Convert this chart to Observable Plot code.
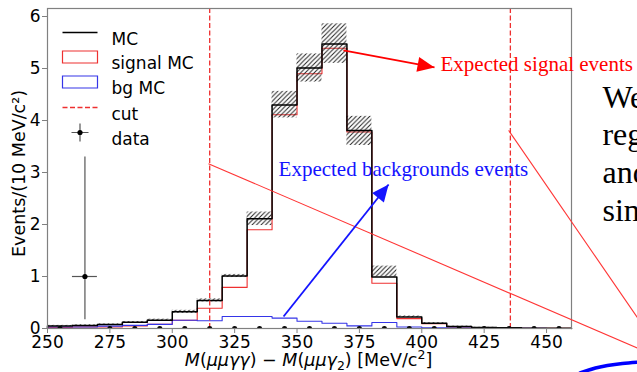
<!DOCTYPE html>
<html><head><meta charset="utf-8">
<script src="https://cdn.jsdelivr.net/npm/d3@7"></script>
<script src="https://cdn.jsdelivr.net/npm/@observablehq/plot@0.6"></script>
<style>body{margin:0;background:#fff}#chart{width:637px;height:372px;overflow:hidden}</style>
</head><body><div id="chart"></div>
<script>
// ---------- data ----------
const binStart = [250,260,270,280,290,300,310,320,330,340,350,360,370,380,390,400,410,420,430,440,450];
const binWidth = 10;
const mcValues     = [0.05,0.06,0.075,0.12,0.16,0.32,0.54,1.01,2.11,4.30,5.01,5.47,3.81,0.99,0.22,0.10,0.04,0.02,0.013,0.007,0.004];
const signalValues = [0.02,0.03,0.03,0.05,0.08,0.16,0.39,0.79,1.90,4.11,4.90,5.39,3.78,0.87,0.19,0.09,0.03,0.015,0.01,0.005,0.003];
const bgValues     = [0.03,0.03,0.045,0.06,0.08,0.16,0.15,0.23,0.23,0.20,0.14,0.10,0.05,0.115,0.03,0.012,0.01,0.005,0.003,0.002,0.001];
const mcErrUp      = [0.01,0.01,0.012,0.015,0.02,0.03,0.03,0.03,0.13,0.26,0.27,0.39,0.27,0.21,0.02,0.012,0.006,0.004,0,0,0];
const mcErrDown    = [0.01,0.01,0.012,0.015,0.02,0.03,0.03,0.03,0.13,0.25,0.27,0.37,0.29,0.0,0.01,0.01,0.006,0.004,0,0,0];
const dataCenters  = [255,265,275,285,295,305,315,325,335,345,355,365,375,385,395,405,415,425,435,445,455];
const dataCounts   = [0,1,0,0,0,0,0,0,0,0,0,0,0,0,0,0,0,0,0,0,0];
const dataErrLow   = [0,0.83,0,0,0,0,0,0,0,0,0,0,0,0,0,0,0,0,0,0,0];
const dataErrHigh  = [0,2.30,0,0,0,0,0,0,0,0,0,0,0,0,0,0,0,0,0,0,0];
const cutValues = [315, 435.5];
const xTicks = [250,275,300,325,350,375,400,425,450];
const yTicks = [0,1,2,3,4,5,6];
const xDomain = [250, 460];
const yDomain = [0, 6.154];
const legendLabels = ["MC","signal MC","bg MC","cut","data"];
const yLabel = "Events/(10 MeV/c²)";
const xLabelParts = [["M","i"],["(",""],["μμγγ","i"],[")",""],[" − ",""],["M","i"],["(",""],["μμγ","i"],["2","sub"],[")",""],[" [MeV/c",""],["2","sup"],["]",""]];
// slide annotations (data coordinates)
const annoTexts = [
  {text:"Expected signal events", x:407.5, y:4.96, color:"#ff0000"},
  {text:"Expected backgrounds events", x:342.6, y:2.94, color:"#1414ff"}
];
const slideWords = [
  {text:"We", x:472.4, y:4.25},{text:"reg", x:472.4, y:3.52},
  {text:"and", x:472.4, y:2.79},{text:"sin", x:472.4, y:2.06}
];
const arrows = [
  {x1:368.6, y1:5.35, x2:405.1, y2:5.02, color:"#ff0000"},
  {x1:344.6, y1:0.23, x2:386.7, y2:2.77, color:"#1414ff"}
];
const pointerLines = [
  {x1:314.5, y1:3.17, x2:490, y2:-0.45},
  {x1:434.8, y1:3.81, x2:488, y2:0.10}
];
const ellipseArc = [
  {x:462.8,y:-0.875},{x:464.0,y:-0.846},{x:469.6,y:-0.76},{x:474.4,y:-0.71},{x:480.4,y:-0.673},{x:487.6,y:-0.644}
];

// ---------- derived tables ----------
function stepPoints(vals){
  const pts=[{x:binStart[0],y:0}];
  vals.forEach((v,i)=>{pts.push({x:binStart[i],y:v});pts.push({x:binStart[i]+binWidth,y:v});});
  pts.push({x:binStart[vals.length-1]+binWidth,y:0});
  return pts;
}
const bands = binStart.map((b,i)=>({x1:b,x2:b+binWidth,y1:mcValues[i]-mcErrDown[i],y2:mcValues[i]+mcErrUp[i]})).filter(d=>d.y2>d.y1);
const dataTable = dataCenters.map((c,i)=>({x:c,y:dataCounts[i],lo:dataCounts[i]-dataErrLow[i],hi:dataCounts[i]+dataErrHigh[i]}));
const dataNonzero = dataTable.filter(d=>d.y>0);

const W=637,H=372,mL=47,mR=66,mT=8,mB=44;
const xs = Plot.scale({x:{domain:xDomain,range:[mL,W-mR]}});
const ys = Plot.scale({y:{domain:yDomain,range:[H-mB,mT]}});
const angle = d => Math.atan2(ys.apply(d.y2)-ys.apply(d.y1), xs.apply(d.x2)-xs.apply(d.x1))*180/Math.PI;

// custom symbols
const lineSym = {draw(c){c.moveTo(-17.5,0);c.lineTo(17.5,0);}};
const rectSym = {draw(c){c.rect(-17.5,-6,35,12);}};
const crossSym = {draw(c){c.moveTo(-8.5,0);c.lineTo(8.5,0);c.moveTo(0,-9);c.lineTo(0,9);}};
const headSym = {draw(c){c.moveTo(0,0);c.lineTo(-17,-7.5);c.lineTo(-17,7.5);c.closePath();}};

const RED="#ee3030", BLUE="#3535e8";
const legendY = [24,48.5,73.5,99,124];
const legendMarks = [
  Plot.dot([0],{frameAnchor:"top-left",dx:32.5,dy:legendY[0],symbol:lineSym,stroke:"black",fill:"none",strokeWidth:1.5}),
  Plot.dot([0],{frameAnchor:"top-left",dx:32.5,dy:legendY[1],symbol:rectSym,stroke:RED,fill:"none",strokeWidth:1.2}),
  Plot.dot([0],{frameAnchor:"top-left",dx:32.5,dy:legendY[2],symbol:rectSym,stroke:BLUE,fill:"none",strokeWidth:1.2}),
  Plot.dot([0],{frameAnchor:"top-left",dx:32.5,dy:legendY[3],symbol:lineSym,stroke:RED,fill:"none",strokeWidth:1.3,strokeDasharray:"5,2.5"}),
  Plot.dot([0],{frameAnchor:"top-left",dx:32.5,dy:legendY[4],symbol:crossSym,stroke:"#555",fill:"none",strokeWidth:1.2}),
  Plot.dot([0],{frameAnchor:"top-left",dx:32.5,dy:legendY[4],r:2.6,fill:"black",stroke:"none"}),
  ...legendLabels.map((t,i)=>Plot.text([t],{frameAnchor:"top-left",dx:64,dy:legendY[i],textAnchor:"start",fill:"black",fontSize:17}))
];

const plot = Plot.plot({
  width:W,height:H,marginLeft:mL,marginRight:mR,marginTop:mT,marginBottom:mB,
  style:{fontFamily:"DejaVu Sans",fontSize:"17px",background:"white",overflow:"visible"},
  x:{domain:xDomain},
  y:{domain:yDomain},
  marks:[
    Plot.line(stepPoints(signalValues),{x:"x",y:"y",stroke:RED,strokeWidth:1.1}),
    Plot.line(stepPoints(bgValues),{x:"x",y:"y",stroke:BLUE,strokeWidth:1.1}),
    Plot.rect(bands,{x1:"x1",x2:"x2",y1:"y1",y2:"y2",fill:"url(#hatch)"}),
    Plot.line(stepPoints(mcValues),{x:"x",y:"y",stroke:"black",strokeWidth:1.5}),
    Plot.ruleX(cutValues,{stroke:RED,strokeWidth:1.3,strokeDasharray:"5,2.5"}),
    Plot.ruleX(dataNonzero,{x:"x",y1:"lo",y2:"hi",stroke:"#555",strokeWidth:1.2}),
    Plot.ruleY(dataNonzero,{y:"y",x1:d=>d.x-binWidth/2,x2:d=>d.x+binWidth/2,stroke:"#555",strokeWidth:1.2}),
    Plot.dot(dataTable,{x:"x",y:"y",r:2.6,fill:"black",stroke:"none",clip:true}),
    Plot.frame({stroke:"#808080",strokeWidth:1.2}),
    Plot.axisX({ticks:xTicks,tickFormat:d=>String(d),tickSize:5,tickPadding:2,label:null,stroke:"#808080",fill:"black",fontSize:17}),
    Plot.axisY({ticks:yTicks,tickFormat:d=>String(d),tickSize:5,tickPadding:2,label:null,stroke:"#808080",fill:"black",fontSize:17}),
    ...legendMarks,
    Plot.text([yLabel],{frameAnchor:"left",dx:-28.5,dy:5,rotate:-90,textAnchor:"middle",fill:"black",fontSize:17.5}),
    Plot.text(["XLABEL"],{frameAnchor:"bottom",dx:-1,dy:37,textAnchor:"middle",fill:"black",fontSize:17.5}),
    // slide annotations
    ...pointerLines.map(d=>Plot.link([d],{x1:"x1",y1:"y1",x2:"x2",y2:"y2",stroke:"#ff3535",strokeWidth:1.1})),
    ...arrows.map(d=>Plot.link([d],{x1:"x1",y1:"y1",x2:"x2",y2:"y2",stroke:d.color,strokeWidth:1.8})),
    ...arrows.map(d=>Plot.dot([d],{x:"x2",y:"y2",symbol:headSym,rotate:angle,fill:d.color,stroke:"none"})),
    ...annoTexts.map(d=>Plot.text([d],{x:"x",y:"y",text:"text",textAnchor:"start",lineAnchor:"bottom",fill:d.color,fontFamily:"Liberation Serif",fontSize:21})),
    Plot.text(slideWords,{x:"x",y:"y",text:"text",textAnchor:"start",lineAnchor:"bottom",fill:"black",fontFamily:"Liberation Serif",fontSize:32}),
    Plot.line(ellipseArc,{x:"x",y:"y",curve:"natural",stroke:"#0000ff",strokeWidth:3.5})
  ]
});

// hatch pattern
const ns="http://www.w3.org/2000/svg";
const defs=document.createElementNS(ns,"defs");
defs.innerHTML='<pattern id="hatch" patternUnits="userSpaceOnUse" width="4.5" height="4.5"><path d="M-1,1 l2,-2 M0,4.5 l4.5,-4.5 M3.5,5.5 l2,-2" stroke="#222" stroke-width="1"/></pattern>';
plot.insertBefore(defs, plot.firstChild);

// rich x label
for (const t of plot.querySelectorAll("text")) {
  if (t.textContent === "XLABEL") {
    t.textContent = "";
    let shift = 0;
    for (const [s, k] of xLabelParts) {
      const ts = document.createElementNS(ns,"tspan");
      ts.textContent = s;
      let target = k==="sub" ? 4 : k==="sup" ? -7 : 0;
      if (target !== shift) { ts.setAttribute("dy", target - shift); shift = target; }
      if (k==="i") ts.setAttribute("font-style","italic");
      if (k==="sub"||k==="sup") ts.setAttribute("font-size","12.5");
      t.appendChild(ts);
    }
  }
}
document.getElementById("chart").appendChild(plot);
</script></body></html>
